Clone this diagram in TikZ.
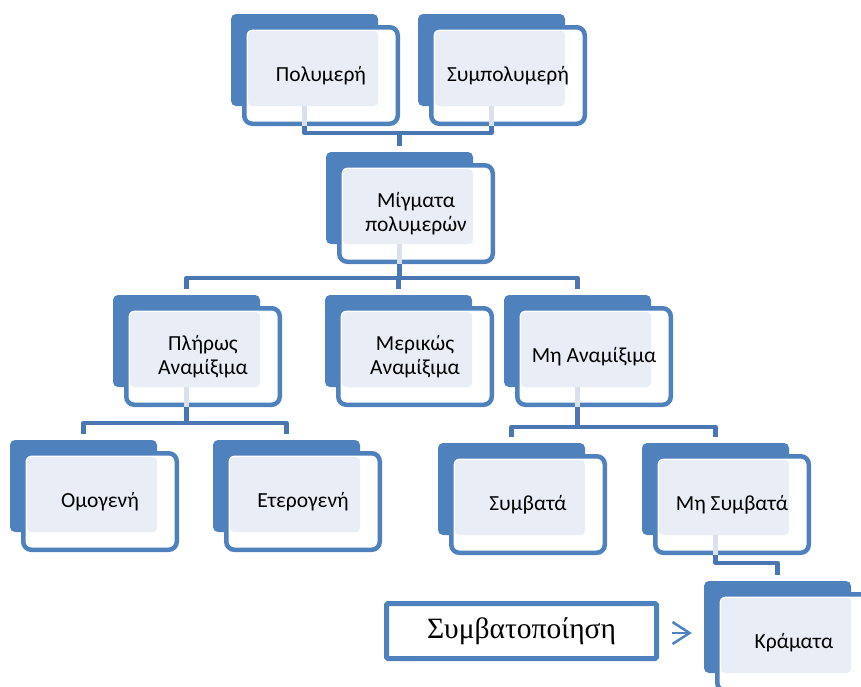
\documentclass[tikz,border=0pt]{standalone}
\usepackage{fontspec}
\setmainfont{Carlito}
\newfontfamily\serifgr{Liberation Serif}
\usetikzlibrary{arrows.meta}
\definecolor{boxblue}{HTML}{4F81BD}
\definecolor{connblue}{HTML}{4A77B2}
\definecolor{lightfill}{HTML}{E9EEF6}
\definecolor{stubcol}{HTML}{DAE1EC}
\tikzset{
  backbox/.style={fill=boxblue, draw=none, rounded corners=5pt, minimum width=147pt, minimum height=92pt, inner sep=0pt},
  frontbox/.style={draw=boxblue, line width=4.5pt, fill=white, rounded corners=8pt, minimum width=153.5pt, minimum height=96.5pt, inner sep=0pt},
  lbl/.style={font=\fontsize{21.5}{24.5}\selectfont, align=center, text=black, inner sep=0pt},
  conn/.style={draw=connblue, line width=4.5pt, line join=round},
  stub/.style={draw=stubcol, line width=4.5pt},
  sbox/.style={draw=boxblue, line width=5pt, fill=white, minimum width=270pt, minimum height=55pt, inner sep=0pt, rounded corners=1.5pt, font=\serifgr\fontsize{29.5}{30}\selectfont},
  arr/.style={draw=boxblue, line width=2.5pt, -{Straight Barb[length=17pt,width=22pt,line width=2.5pt]}}
}
\newcommand\smartbox[4]{%
  \node[backbox] (#1b) at (#2+73.5,#3+46) {};
  \node[frontbox] (#1f) at (#2+90,#3+61.5) {};
  \fill[lightfill, rounded corners=4pt] (#2+17,#3+17) rectangle (#2+147,#3+92);
  \node[lbl] (#1) at (#1f.center) {#4};
}
\begin{document}
\begin{tikzpicture}[x=1pt,y=-1pt]
\clip (0,0) rectangle (861,686);
\fill[white] (0,0) rectangle (861,686);

\smartbox{P}{231}{14}{Πολυμερή}
\smartbox{S}{418}{14}{Συμπολυμερή}
\smartbox{M}{326}{152}{Μίγματα\\πολυμερών}
\smartbox{PL}{113}{295}{Πλήρως\\Αναμίξιμα}
\smartbox{ME}{325}{295}{Μερικώς\\Αναμίξιμα}
\smartbox{MA}{504}{295}{Μη Αναμίξιμα}
\smartbox{O}{10}{440}{Ομογενή}
\smartbox{E}{213}{440}{Ετερογενή}
\smartbox{SY}{438}{443}{Συμβατά}
\smartbox{MS}{642}{443}{Μη Συμβατά}
\smartbox{K}{704}{581}{Κράματα}

% level 0 -> 1
\path (Mb.north) ++(0,-19) coordinate (j1);
\draw[conn] (Pb.south |- Pf.south) |- (j1) -| (Sb.south |- Sf.south);
\draw[conn] (j1) -- ([yshift=6pt]Mb.north);
\draw[stub] (Pb.south) -- (Pb.south |- Pf.south);
\draw[stub] (Sb.south) -- (Sb.south |- Sf.south);

% level 1 -> 2
\path (PLb.north) ++(0,-17) coordinate (j2);
\draw[conn] ([yshift=6pt]PLb.north) -- (j2) -- (j2 -| MAb.north) -- ([yshift=6pt]MAb.north);
\draw[conn] (Mb.south |- Mf.south) -- (Mb.south |- j2);
\draw[conn] (MEb.north |- j2) -- ([yshift=6pt]MEb.north);
\draw[stub] (Mb.south) -- (Mb.south |- Mf.south);

% PL -> O, E
\path (Ob.north) ++(0,-17) coordinate (j3);
\draw[conn] ([yshift=6pt]Ob.north) -- (j3) -- (j3 -| Eb.north) -- ([yshift=6pt]Eb.north);
\draw[conn] (PLb.south |- PLf.south) -- (PLb.south |- j3);
\draw[stub] (PLb.south) -- (PLb.south |- PLf.south);

% MA -> SY, MS
\path (SYb.north) ++(0,-16) coordinate (j4);
\draw[conn] ([yshift=6pt]SYb.north) -- (j4) -- (j4 -| MSb.north) -- ([yshift=6pt]MSb.north);
\draw[conn] (MAb.south |- MAf.south) -- (MAb.south |- j4);
\draw[stub] (MAb.south) -- (MAb.south |- MAf.south);

% MS -> K
\path (Kb.north) ++(0,-18) coordinate (j5);
\draw[conn] (MSb.south |- MSf.south) |- (j5) -- ([yshift=6pt]Kb.north);
\draw[stub] (MSb.south) -- (MSb.south |- MSf.south);

% Συμβατοποίηση
\node[sbox] (SB) at (521.5,631) {Συμβατοποίηση};
\draw[arr] ([xshift=13pt,yshift=-2pt]SB.east) -- ([xshift=-12pt,yshift=-2pt]SB.east -| Kb.west);
\end{tikzpicture}
\end{document}
